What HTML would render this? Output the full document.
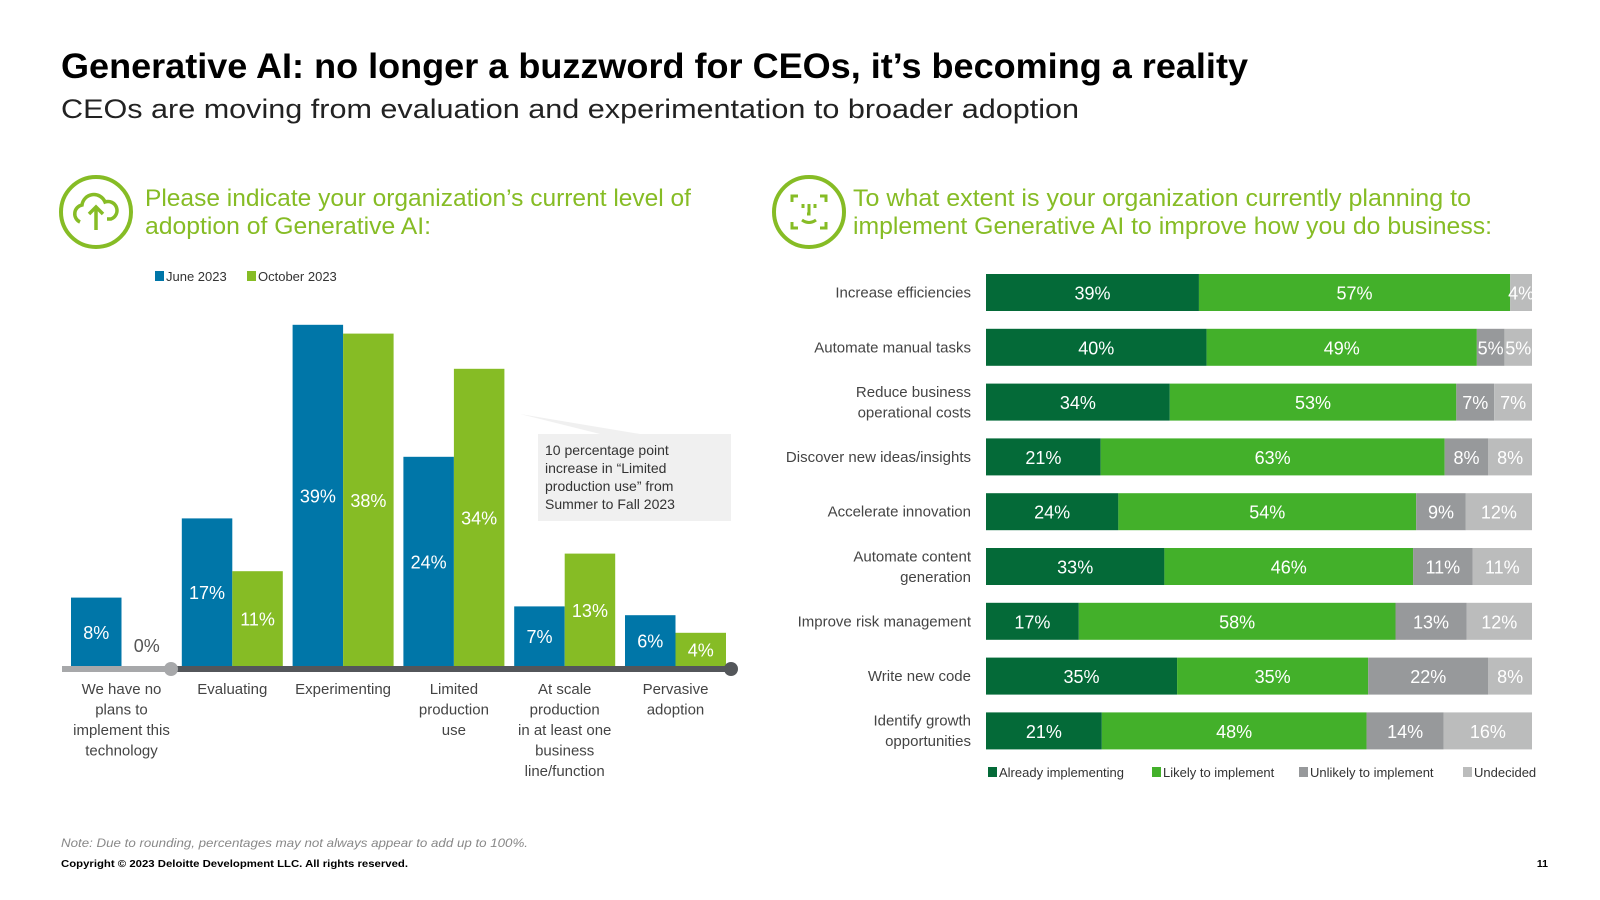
<!DOCTYPE html>
<html><head><meta charset="utf-8"><style>
body{margin:0;background:#fff;}
svg{display:block;font-family:"Liberation Sans",sans-serif;}
</style></head><body>
<svg id="s" width="1600" height="900" viewBox="0 0 1600 900" xmlns="http://www.w3.org/2000/svg">
<text x="61" y="78" font-size="35" font-weight="bold" fill="#000" textLength="1187" lengthAdjust="spacingAndGlyphs">Generative AI: no longer a buzzword for CEOs, it’s becoming a reality</text>
<text x="61" y="118" font-size="27" fill="#222" textLength="1018" lengthAdjust="spacingAndGlyphs">CEOs are moving from evaluation and experimentation to broader adoption</text>

<g fill="none" stroke="#86bc25" stroke-width="4">
<circle cx="96" cy="212" r="35"/>
<path d="M80 222 a9 9 0 0 1 2 -17 a12 12 0 0 1 23 -3 a9 9 0 0 1 6 17 h-4" stroke-width="3.5"/>
<path d="M96 230 v-22 M89 214 l7 -7 l7 7" stroke-width="3.5"/>
</g>
<text font-size="24" fill="#86bc25"><tspan x="145" y="206" textLength="546" lengthAdjust="spacingAndGlyphs">Please indicate your organization’s current level of</tspan><tspan x="145" y="234" textLength="286" lengthAdjust="spacingAndGlyphs">adoption of Generative AI:</tspan></text>

<g fill="none" stroke="#86bc25" stroke-width="4">
<circle cx="809" cy="212" r="35"/>
<path d="M792 202 v-6 h6 M820 196 h6 v6 M792 222 v6 h6 M820 228 h6 v-6 M803 204 v4 M815 204 v4 M809 204 v10 h-2 M802 220 q7 5 14 0" stroke-width="3"/>
</g>
<text font-size="24" fill="#86bc25"><tspan x="853" y="206" textLength="618" lengthAdjust="spacingAndGlyphs">To what extent is your organization currently planning to</tspan><tspan x="853" y="234" textLength="639" lengthAdjust="spacingAndGlyphs">implement Generative AI to improve how you do business:</tspan></text>

<g font-size="13" fill="#333">
<rect x="155" y="271" width="9" height="10" fill="#0076a8"/><text x="166" y="281">June 2023</text>
<rect x="247" y="271" width="9" height="10" fill="#86bc25"/><text x="258" y="281">October 2023</text>
</g>

<g>
<polygon points="520,414 600,434 640,434" fill="#f0f0f0"/>
<rect x="538" y="434" width="193" height="87" fill="#f0f0f0"/>
<text font-size="14" fill="#333"><tspan x="545" y="455">10 percentage point</tspan><tspan x="545" y="473">increase in “Limited</tspan><tspan x="545" y="491">production use” from</tspan><tspan x="545" y="509">Summer to Fall 2023</tspan></text>
</g>

<g id="left"></g>
<g id="right"></g>

<g font-size="13" fill="#333">
<rect x="988" y="767" width="9" height="10" fill="#046a38"/><text x="999" y="777">Already implementing</text>
<rect x="1152" y="767" width="9" height="10" fill="#43b02a"/><text x="1163" y="777">Likely to implement</text>
<rect x="1299" y="767" width="9" height="10" fill="#97999b"/><text x="1310" y="777">Unlikely to implement</text>
<rect x="1463" y="767" width="9" height="10" fill="#bbbcbc"/><text x="1474" y="777">Undecided</text>
</g>

<text x="61" y="847" font-size="12" font-style="italic" fill="#888" textLength="467" lengthAdjust="spacingAndGlyphs">Note: Due to rounding, percentages may not always appear to add up to 100%.</text>
<text x="61" y="867" font-size="10.5" font-weight="bold" fill="#000" textLength="347" lengthAdjust="spacingAndGlyphs">Copyright © 2023 Deloitte Development LLC. All rights reserved.</text>
<text x="1548" y="867" font-size="10.5" font-weight="bold" fill="#000" text-anchor="end">11</text>
</svg>
<script>
const NS="http://www.w3.org/2000/svg";
const adoptCats=[["We have no","plans to","implement this","technology"],["Evaluating"],["Experimenting"],["Limited","production","use"],["At scale","production","in at least one","business","line/function"],["Pervasive","adoption"]];
const june=[8,17,39,24,7,6];
const october=[0,11,38,34,13,4];
const planCats=[["Increase efficiencies"],["Automate manual tasks"],["Reduce business","operational costs"],["Discover new ideas/insights"],["Accelerate innovation"],["Automate content","generation"],["Improve risk management"],["Write new code"],["Identify growth","opportunities"]];
const already=[39,40,34,21,24,33,17,35,21];
const likely=[57,49,53,63,54,46,58,35,48];
const unlikely=[0,5,7,8,9,11,13,22,14];
const undecided=[4,5,7,8,12,11,12,8,16];

function mk(tag,attrs,parent){const e=document.createElementNS(NS,tag);for(const k in attrs)e.setAttribute(k,attrs[k]);parent.appendChild(e);return e;}
const L=document.getElementById('left');
const base=668, pxPer=8.8, x0=71, step=110.8, bw=50.5;
const yL=v=>base-v*pxPer;
const bx=(i,s)=>x0+i*step+s*bw;
[june,october].forEach((arr,s)=>{arr.forEach((v,i)=>{
  const r=mk('rect',{x:bx(i,s),y:yL(v),width:bw,height:base-yL(v),fill:s?'#86bc25':'#0076a8'},L);
  
  
  const t=mk('text',{x:bx(i,s)+bw/2,y:v>0?(yL(v)+base)/2+6:base-16,'text-anchor':'middle','font-size':'18',fill:v>0?'#fff':'#555'},L);
  
  
  t.textContent=v+'%';
});});
const ax1=mk('line',{x1:62,y1:base+1,x2:171,y2:base+1,stroke:'#a7a8aa','stroke-width':6},L);


const ax2=mk('line',{x1:171,y1:base+1,x2:731,y2:base+1,stroke:'#53565a','stroke-width':6},L);


mk('circle',{cx:171,cy:base+1,r:7,fill:'#a7a8aa'},L);
mk('circle',{cx:731,cy:base+1,r:7,fill:'#53565a'},L);
adoptCats.forEach((c,i)=>{
  const t=mk('text',{'text-anchor':'middle','font-size':'15',fill:'#444'},L);
  
  
  c.forEach((ln,j)=>{const sp=mk('tspan',{x:x0+i*step+bw,y:694+j*20.5},t);sp.textContent=ln;});
});

const R=document.getElementById('right');
const rx0=986, rw=546, rTop=274, rStep=54.8, rh=37;
const series=[already,likely,unlikely,undecided];
const cols=['#046a38','#43b02a','#97999b','#bbbcbc'];
planCats.forEach((c,i)=>{
  const y=rTop+i*rStep;
  const total=series.reduce((a,arr)=>a+arr[i],0);
  const xR=v=>v/total*rw;
  const t=mk('text',{'text-anchor':'end','font-size':'15',fill:'#444'},R);
  
  
  c.forEach((ln,j)=>{const sp=mk('tspan',{x:971,y:y+rh/2+5+(j-(c.length-1)/2)*20.5},t);sp.textContent=ln;});
  let acc=0;
  series.forEach((arr,s)=>{
    const v=arr[i];
    if(v>0){
      const r=mk('rect',{x:rx0+xR(acc),y:y,width:xR(v),height:rh,fill:cols[s]},R);
      
      
      const tt=mk('text',{x:rx0+xR(acc+v/2),y:y+rh/2+7,'text-anchor':'middle','font-size':'18',fill:'#fff'},R);
      
      
      tt.textContent=v+'%';
    }
    acc+=v;
  });
});
</script>
</body></html>
